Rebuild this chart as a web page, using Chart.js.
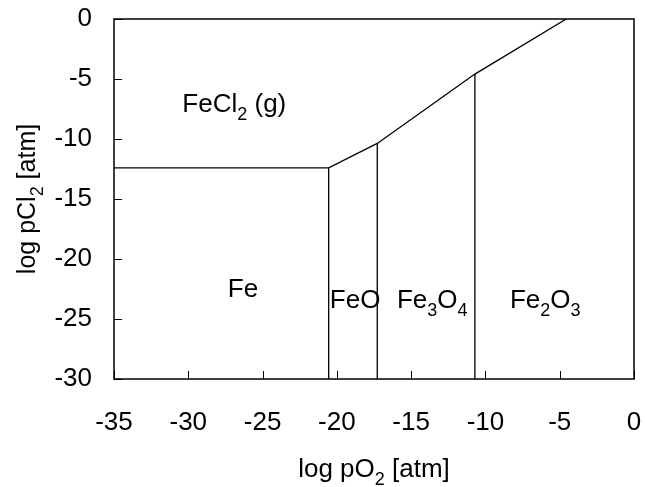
<!DOCTYPE html>
<html>
<head>
<meta charset="utf-8">
<script src="https://cdn.jsdelivr.net/npm/chart.js@4"></script>
<style>
  body { margin: 0; background: #fff; }
  #wrap { width: 645px; height: 487px; }
</style>
</head>
<body>
<div id="wrap"><canvas id="diagram"></canvas></div>
<script>
// Fe-O-Cl predominance diagram
const xTicks = [-35, -30, -25, -20, -15, -10, -5, 0];
const yTicks = [-30, -25, -20, -15, -10, -5, 0];

// upper boundary (FeCl2 gas vs. condensed phases)
const edgeX = [-35, -20.55, -17.28, -10.71, -4.56];
const edgeY = [-12.4, -12.4, -10.37, -4.59, 0];

// vertical phase boundaries, running down to the bottom of the plot
const wallX = [-20.55, -17.28, -10.71];
const wallTop = [-12.4, -10.37, -4.59];
const wallBottom = -30;

// region labels ("_" marks a one-char subscript), left edge + baseline in data units
const phaseNames = ['FeCl_2 (g)', 'Fe', 'FeO', 'Fe_3O_4', 'Fe_2O_3'];
const phaseX = [-30.4, -27.34, -20.47, -15.96, -8.35];
const phaseY = [-7.74, -23.19, -24.1, -24.1, -24.1];

const xTitle = 'log pO_2 [atm]';
const yTitle = 'log pCl_2 [atm]';

const FONT = '"Liberation Sans", Arial, sans-serif';

function splitRich(str) {
  const parts = [];
  let buf = '';
  for (let i = 0; i < str.length; i++) {
    if (str[i] === '_' && i + 1 < str.length) {
      if (buf) parts.push([buf, false]);
      buf = '';
      parts.push([str[i + 1], true]);
      i++;
    } else {
      buf += str[i];
    }
  }
  if (buf) parts.push([buf, false]);
  return parts;
}

function drawRich(ctx, str, x, y, size, align) {
  const parts = splitRich(str);
  const sub = Math.round(size * 0.7);
  let width = 0;
  parts.forEach(([t, s]) => {
    ctx.font = (s ? sub : size) + 'px ' + FONT;
    width += ctx.measureText(t).width;
  });
  let cx = align === 'center' ? x - width / 2 : x;
  ctx.textAlign = 'left';
  ctx.textBaseline = 'alphabetic';
  parts.forEach(([t, s]) => {
    ctx.font = (s ? sub : size) + 'px ' + FONT;
    ctx.fillText(t, cx, y + (s ? size * 0.3 : 0));
    cx += ctx.measureText(t).width;
  });
}

const decor = {
  id: 'decor',
  afterDraw(chart) {
    const { ctx, chartArea: a, scales: { x, y } } = chart;
    ctx.save();
    ctx.strokeStyle = '#000';
    ctx.fillStyle = '#000';

    // inward tick marks on bottom and left axes
    ctx.lineWidth = 1;
    ctx.beginPath();
    x.ticks.forEach(t => {
      const px = Math.round(x.getPixelForValue(t.value)) + 0.5;
      ctx.moveTo(px, a.bottom);
      ctx.lineTo(px, a.bottom - 8);
    });
    y.ticks.forEach(t => {
      const py = Math.round(y.getPixelForValue(t.value)) + 0.5;
      ctx.moveTo(a.left, py);
      ctx.lineTo(a.left + 8, py);
    });
    ctx.stroke();

    // frame
    ctx.lineWidth = 1.5;
    ctx.strokeRect(a.left, a.top, a.right - a.left, a.bottom - a.top);

    // region labels
    phaseNames.forEach((name, i) => {
      drawRich(ctx, name, x.getPixelForValue(phaseX[i]), y.getPixelForValue(phaseY[i]), 26, 'left');
    });

    // axis titles
    drawRich(ctx, xTitle, (a.left + a.right) / 2, 477, 26, 'center');
    ctx.translate(35, (a.top + a.bottom) / 2);
    ctx.rotate(-Math.PI / 2);
    drawRich(ctx, yTitle, 0, 0, 25, 'center');
    ctx.restore();
  }
};

const lineStyle = {
  showLine: true,
  pointRadius: 0,
  borderColor: '#000',
  borderWidth: 1.3,
  fill: false
};

const datasets = [
  { ...lineStyle, data: edgeX.map((v, i) => ({ x: v, y: edgeY[i] })) },
  ...wallX.map((v, i) => ({
    ...lineStyle,
    data: [{ x: v, y: wallTop[i] }, { x: v, y: wallBottom }]
  }))
];

new Chart(document.getElementById('diagram').getContext('2d'), {
  type: 'scatter',
  data: { datasets },
  options: {
    responsive: true,
    maintainAspectRatio: false,
    animation: false,
    layout: { padding: { top: 19, right: 11, left: 0, bottom: 0 } },
    plugins: {
      legend: { display: false },
      tooltip: { enabled: false }
    },
    scales: {
      x: {
        type: 'linear',
        position: 'bottom',
        min: xTicks[0],
        max: xTicks[xTicks.length - 1],
        afterBuildTicks: s => { s.ticks = xTicks.map(v => ({ value: v })); },
        afterFit: s => {
          s.height = 108;
          s.paddingLeft = 0;
          s.paddingRight = 0;
        },
        ticks: {
          color: '#000',
          font: { family: FONT, size: 26 },
          padding: 28,
          maxRotation: 0,
          autoSkip: false
        },
        grid: { display: false, drawTicks: false },
        border: { display: false }
      },
      y: {
        type: 'linear',
        position: 'left',
        min: yTicks[0],
        max: yTicks[yTicks.length - 1],
        afterBuildTicks: s => { s.ticks = yTicks.map(v => ({ value: v })); },
        afterFit: s => {
          s.width = 114;
          s.paddingTop = 0;
          s.paddingBottom = 0;
        },
        ticks: {
          color: '#000',
          font: { family: FONT, size: 26 },
          padding: 22,
          autoSkip: false
        },
        grid: { display: false, drawTicks: false },
        border: { display: false }
      }
    }
  },
  plugins: [decor]
});
</script>
</body>
</html>
